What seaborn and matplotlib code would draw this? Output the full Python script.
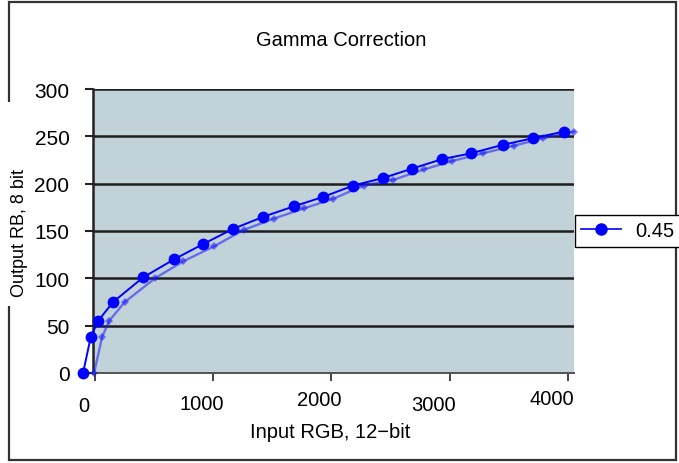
import pandas as pd
import matplotlib.pyplot as plt
import matplotlib.transforms as mtransforms
import seaborn as sns
from matplotlib.patches import Rectangle

# Valores
entrada = [-99, -34, 28, 155, 409, 669, 913, 1164, 1424, 1681, 1930,
           2184, 2438, 2684, 2938, 3178, 3447, 3703, 3963]
saida = [0, 38, 55, 75, 101, 120, 136, 152, 165, 176, 186,
         198, 206, 216, 226, 232, 241, 248, 255]

# Segunda curva (fantasma, deslocada)
entrada_fantasma = [-6, 62, 121, 254, 508, 748, 1011, 1257, 1511, 1771, 2014,
                    2274, 2523, 2782, 3023, 3277, 3540, 3786, 4053]
saida_fantasma = [0, 38, 55, 75, 100, 118, 134, 151, 163, 174, 184,
                  198, 204, 215, 224, 232, 240, 248, 255]

xticks = [0, 1000, 2000, 3000, 4000]
yticks = [0, 50, 100, 150, 200, 250, 300]
serie = "0.45"

df = pd.DataFrame({"x": entrada, "y": saida, "gamma": serie})
df_f = pd.DataFrame({"x": entrada_fantasma, "y": saida_fantasma})

plt.rcParams["font.family"] = ["Liberation Sans", "DejaVu Sans"]

fig = plt.figure(figsize=(6.79, 4.64), dpi=100)
ax = fig.add_axes([93 / 679, 1 - 374 / 464, (574 - 93) / 679, (374 - 90) / 464])
ax.set_facecolor("#c2d2d9")

# Curva fantasma
sns.lineplot(ax=ax, data=df_f, x="x", y="y", color="#1a1aff", alpha=0.55,
             marker="D", markersize=4.5, markeredgewidth=0, linewidth=1.7,
             legend=False, zorder=3)

# Curva principal
sns.lineplot(ax=ax, data=df, x="x", y="y", hue="gamma", palette=["#0000ff"],
             marker="o", markersize=8.5, markeredgewidth=0, linewidth=1.4,
             zorder=4, legend=False)
for ln in ax.lines:
    ln.set_clip_on(False)

ax.set_xlim(-15, 4050)
ax.set_ylim(0, 300)
ax.set_yticks(yticks)
ax.set_yticklabels([str(v) for v in yticks], fontsize=15)
ax.set_xticks(xticks)
ax.set_xticklabels([str(v) for v in xticks], fontsize=14.5)
ax.grid(axis="y", color="#1e1e1e", linewidth=1.8)
ax.set_axisbelow(True)
ax.tick_params(axis="y", length=6, width=1.5, color="#222222", pad=11)
ax.tick_params(axis="x", length=6, width=1.3, color="#333333", pad=9)
for s in ["top", "right"]:
    ax.spines[s].set_visible(False)
ax.spines["left"].set_color("#222222")
ax.spines["left"].set_linewidth(1.8)
ax.spines["bottom"].set_color("#555555")
ax.spines["bottom"].set_linewidth(1.4)
ax.set_xlabel("")
ax.set_ylabel("")

# rótulos do eixo x deslocados como na figura original
desloc = [(-11, -2), (-11, 0), (-12, 4), (-16, -1), (-16, 5)]
for lab, (dx, dy) in zip(ax.get_xticklabels(), desloc):
    lab.set_transform(lab.get_transform() +
                      mtransforms.ScaledTranslation(dx / 100, dy / 100, fig.dpi_scale_trans))

fig.text(341 / 679, 1 - 41 / 464, "Gamma Correction", ha="center", va="center", fontsize=14.5)
fig.text(330 / 679, 1 - 433 / 464, "Input RGB, 12\u2212bit", ha="center", va="center", fontsize=14.5)

# Moldura da figura
fig.patches.append(Rectangle((9 / 679, 3 / 464), 667 / 679, 458 / 464,
                             transform=fig.transFigure, fill=False,
                             edgecolor="#333333", linewidth=1.6, zorder=0))
# Caixa branca do rótulo Y
fig.patches.append(Rectangle((6 / 679, 1 - 307 / 464), 28 / 679, 204 / 464,
                             transform=fig.transFigure, facecolor="white",
                             edgecolor="none", zorder=1))
fig.text(20 / 679, 1 - 233 / 464, "Output RB, 8 bit", rotation=90,
         ha="center", va="center", fontsize=13, zorder=2)

# Legenda
h = plt.Line2D([], [], color="#0000ff", marker="o", markersize=9,
               markeredgewidth=0, linewidth=1.2)
leg = fig.legend([h], [serie], loc="center left",
                 bbox_to_anchor=(575 / 679, 1 - 232 / 464), fontsize=14.5,
                 frameon=True, fancybox=False, framealpha=1,
                 edgecolor="black", handlelength=2.0, borderpad=0.3,
                 borderaxespad=0, handletextpad=0.7)
leg.get_frame().set_linewidth(1.0)

fig.savefig("out.png", dpi=100)
